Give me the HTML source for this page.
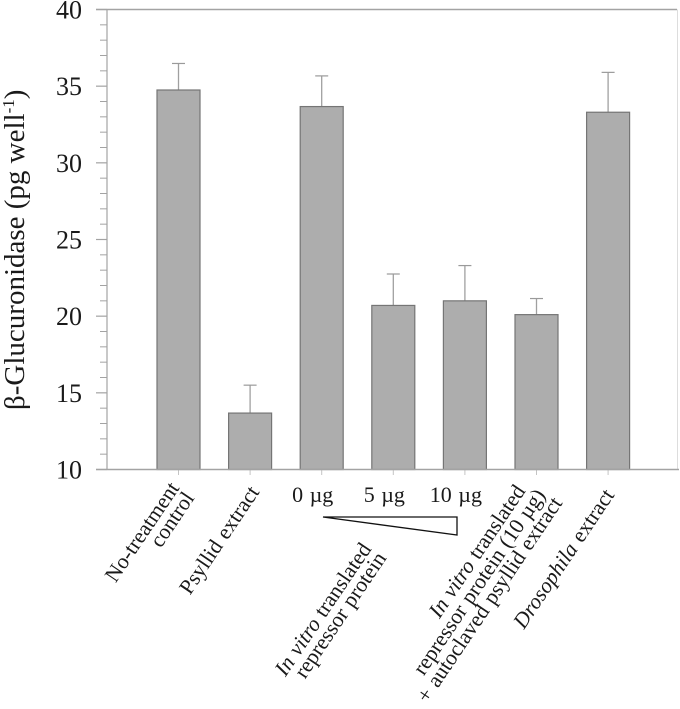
<!DOCTYPE html>
<html>
<head>
<meta charset="utf-8">
<style>
html,body{margin:0;padding:0;background:#fff;}
svg{display:block;}
text{font-family:"Liberation Serif",serif;fill:#1a1a1a;}
</style>
</head>
<body>
<svg id="chart" width="680" height="709" viewBox="0 0 680 709" xmlns="http://www.w3.org/2000/svg">
<text transform="translate(24,410) rotate(-90)" font-size="29">β-Glucuronidase (pg well<tspan dy="-10" font-size="17">-1</tspan><tspan dy="10">)</tspan></text>
<polygon points="323,517 457,517 457,535" fill="#fff" stroke="#111" stroke-width="1.3"></polygon>
</svg>
<script>
const categories = ['No-treatment control','Psyllid extract','0 µg','5 µg','10 µg','In vitro translated + autoclaved','Drosophila extract'];
const barValues = [34.75,13.68,33.67,20.7,21.0,20.1,33.3];
const errorTops = [36.48,15.5,35.67,22.75,23.3,21.15,35.9];
const yMajorTicks = [10,15,20,25,30,35,40];
const yMinorTicks = [11,12,13,14,16,17,18,19,21,22,23,24,26,27,28,29,31,32,33,34,36,37,38,39];

const svg = document.getElementById('chart');
const NS = 'http://www.w3.org/2000/svg';
const yScale = v => 469.5 - (v - 10) * (460 / 30);
const xScale = i => 178.5 + i * 71.6;
const barWidth = 43;
const axisColor = '#a3a3a3';

function line(x1, y1, x2, y2, color, width) {
  const el = document.createElementNS(NS, 'line');
  el.setAttribute('x1', x1);
  el.setAttribute('y1', y1);
  el.setAttribute('x2', x2);
  el.setAttribute('y2', y2);
  el.setAttribute('stroke', color);
  el.setAttribute('stroke-width', width);
  svg.appendChild(el);
  return el;
}

const topSpine = line(96, 9.5, 677, 9.5, axisColor, 1.4);


const rightSpine = line(677.5, 9.5, 677.5, 469.5, '#dddddd', 1);


const leftSpine = line(107, 9.5, 107, 469.5, axisColor, 1.2);



yMajorTicks.forEach(v => {
  const t = line(96, yScale(v), 107, yScale(v), axisColor, 1.2);
  
  
  const lab = document.createElementNS(NS, 'text');
  
  
  lab.setAttribute('x', 82);
  lab.setAttribute('y', yScale(v) + 9);
  lab.setAttribute('text-anchor', 'end');
  lab.setAttribute('font-size', '26');
  lab.textContent = v;
  svg.appendChild(lab);
});
yMinorTicks.forEach(v => {
  const t = line(100, yScale(v), 107, yScale(v), axisColor, 1);
  
  
});

barValues.forEach((v, i) => {
  const cx = xScale(i);
  const stem = line(cx, yScale(errorTops[i]), cx, yScale(v), '#a0a0a0', 1.3);
  
  
  const cap = line(cx - 6.5, yScale(errorTops[i]), cx + 6.5, yScale(errorTops[i]), '#9a9a9a', 1.2);
  
  
  const r = document.createElementNS(NS, 'rect');
  
  
  r.setAttribute('x', cx - barWidth / 2);
  r.setAttribute('y', yScale(v));
  r.setAttribute('width', barWidth);
  r.setAttribute('height', yScale(10) - yScale(v));
  r.setAttribute('fill', '#adadad');
  r.setAttribute('stroke', '#757575');
  r.setAttribute('stroke-width', '1.2');
  svg.appendChild(r);
  const t = line(cx, 469.5, cx, 475, '#c4c4c4', 1);
  
  
});

const bottomSpine = line(96, 469.5, 679, 469.5, axisColor, 1.4);



['0 µg','5 µg','10 µg'].forEach((s, k) => {
  const lab = document.createElementNS(NS, 'text');
  
  
  lab.setAttribute('x', xScale(k + 2) - 9);
  lab.setAttribute('y', 502);
  lab.setAttribute('text-anchor', 'middle');
  lab.setAttribute('font-size', '22');
  lab.setAttribute('word-spacing', '1');
  lab.textContent = s;
  svg.appendChild(lab);
});

function rotLabel(x, y, parts, name) {
  const el = document.createElementNS(NS, 'text');
  
  
  el.setAttribute('text-anchor', 'end');
  el.setAttribute('font-size', '21.6');
  el.setAttribute('word-spacing', '1');
  el.setAttribute('transform', 'translate(' + x + ',' + y + ') rotate(-56)');
  parts.forEach(p => {
    const ts = document.createElementNS(NS, 'tspan');
    if (p[1]) ts.setAttribute('font-style', 'italic');
    ts.textContent = p[0];
    el.appendChild(ts);
  });
  svg.appendChild(el);
}
rotLabel(180, 488, [['No-treatment']], 'label-no-treatment');
rotLabel(195, 498, [['control']], 'label-control');
rotLabel(260, 492, [['Psyllid extract']], 'label-psyllid-extract');
rotLabel(372, 549, [['In vitro',1],[' translated']], 'label-in-vitro-translated');
rotLabel(387, 558, [['repressor protein']], 'label-repressor-protein');
rotLabel(526, 491, [['In vitro',1],[' translated']], 'label-in-vitro-translated-2');
rotLabel(546, 495, [['repressor protein (10 µg)']], 'label-repressor-protein-10');
rotLabel(563, 503, [['+ autoclaved psyllid extract']], 'label-autoclaved-psyllid');
rotLabel(615, 495, [['Drosophila',1],[' extract']], 'label-drosophila-extract');
</script>
</body>
</html>
